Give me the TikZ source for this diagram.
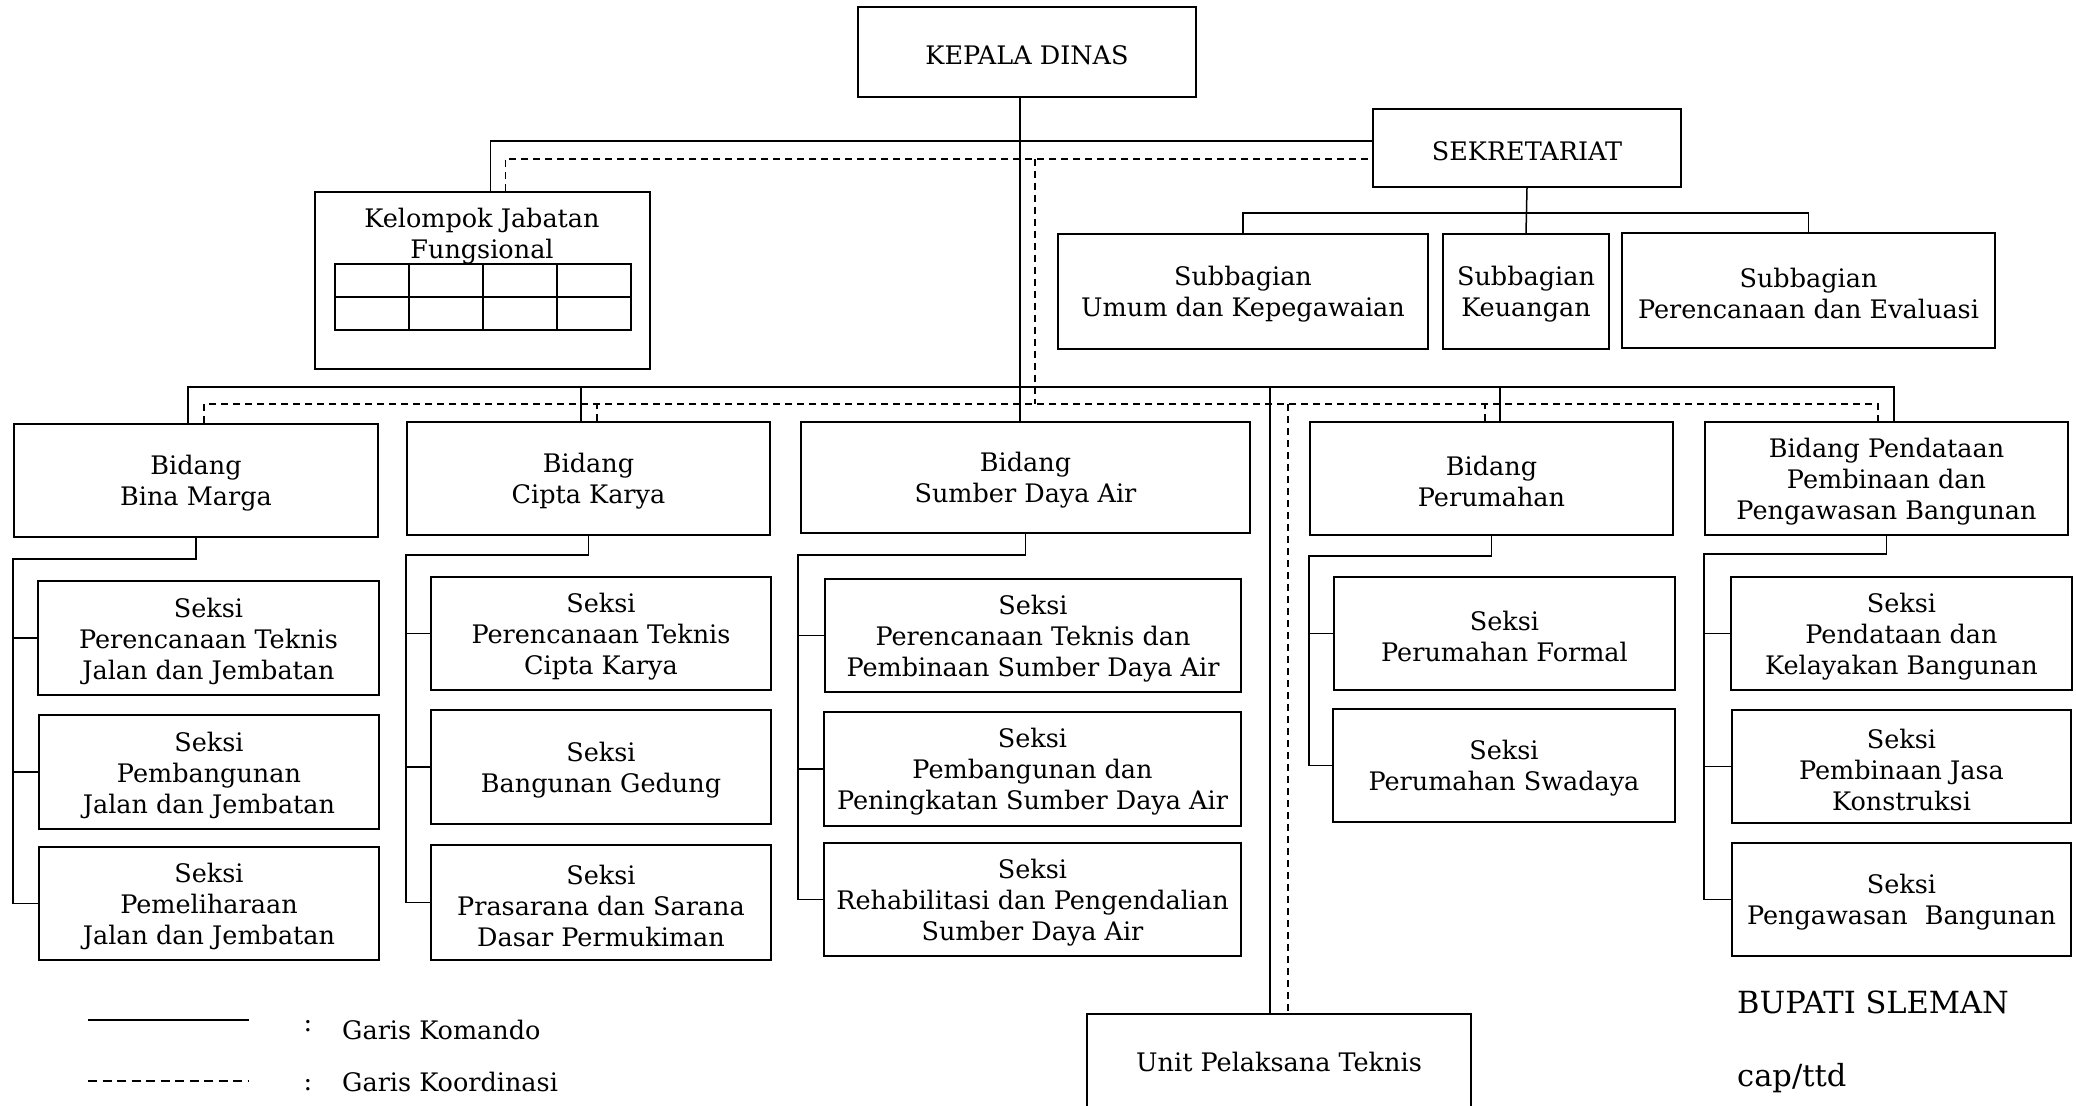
\documentclass[tikz,border=0pt]{standalone}
\usepackage{fontspec}
\setmainfont{DejaVu Serif}
\usetikzlibrary{calc}
\newcommand\bodyfont{\fontsize{25.5}{31}\selectfont}
\newcommand\bigfont{\fontsize{30.5}{36}\selectfont}
\tikzset{
  obox/.style={draw, line width=1.8pt, inner sep=0pt},
  otxt/.style={inner sep=0pt, align=center, font=\bodyfont},
  cn/.style={line width=1.5pt},
  dsh/.style={line width=1.3pt, dash pattern=on 7pt off 5pt},
}
% name, x1, y1, x2, y2, text
\newcommand\obx[6]{%
  \node[obox, minimum width={(#4)-(#2)}, minimum height={(#5)-(#3)}] (#1) at ({((#2)+(#4))/2},{((#3)+(#5))/2}) {};
  \node[otxt] (#1-t) at ([yshift=-3pt]#1.center) {#6};}
\begin{document}
\begin{tikzpicture}[x=1pt,y=-1pt,font=\bodyfont]
\useasboundingbox (0,0) rectangle (2076,1105);
\fill[white] (0,0) rectangle (2076,1105);
\clip (0,0) rectangle (2076,1105);

% top level
\obx{kd}{858}{7}{1196}{97}{KEPALA DINAS}
\obx{sek}{1373}{109}{1681}{187}{SEKRETARIAT}
\node[obox, minimum width=335, minimum height=177] (kjf) at (482.5,280.5) {};
\node[otxt] (kjft) at (482,236) {Kelompok Jabatan\\Fungsional};
\draw[line width=1.8pt] (335,264) rectangle (631,330);
\draw[line width=1.8pt] (335,297) -- (631,297);
\foreach \gx in {409,483,557} \draw[line width=1.8pt] (\gx,264) -- (\gx,330);

\obx{sb1}{1058}{234}{1428}{349}{Subbagian\\Umum dan Kepegawaian}
\obx{sb2}{1443}{234}{1609}{349}{Subbagian\\Keuangan}
\obx{sb3}{1622}{233}{1995}{348}{Subbagian\\Perencanaan dan Evaluasi}

% bidang
\obx{b1}{14}{424}{378}{537}{Bidang\\Bina Marga}
\obx{b2}{407}{422}{770}{535}{Bidang\\Cipta Karya}
\obx{b3}{801}{422}{1250}{533}{Bidang\\Sumber Daya Air}
\obx{b4}{1310}{422}{1673}{535}{Bidang\\Perumahan}
\obx{b5}{1705}{422}{2068}{535}{Bidang Pendataan\\Pembinaan dan\\Pengawasan Bangunan}

% seksi
\obx{s11}{38}{581}{379}{695}{Seksi\\Perencanaan Teknis\\Jalan dan Jembatan}
\obx{s12}{39}{715}{379}{829}{Seksi\\Pembangunan\\Jalan dan Jembatan}
\obx{s13}{39}{847}{379}{960}{Seksi\\Pemeliharaan\\Jalan dan Jembatan}
\obx{s21}{431}{577}{771}{690}{Seksi\\Perencanaan Teknis\\Cipta Karya}
\obx{s22}{431}{710}{771}{824}{Seksi\\Bangunan Gedung}
\obx{s23}{431}{845}{771}{960}{Seksi\\Prasarana dan Sarana\\Dasar Permukiman}
\obx{s31}{825}{579}{1241}{692}{Seksi\\Perencanaan Teknis dan\\Pembinaan Sumber Daya Air}
\obx{s32}{824}{712}{1241}{826}{Seksi\\Pembangunan dan\\Peningkatan Sumber Daya Air}
\obx{s33}{824}{843}{1241}{956}{Seksi\\Rehabilitasi dan Pengendalian\\Sumber Daya Air}
\obx{s41}{1334}{577}{1675}{690}{Seksi\\Perumahan Formal}
\obx{s42}{1333}{709}{1675}{822}{Seksi\\Perumahan Swadaya}
\obx{s51}{1731}{577}{2072}{690}{Seksi\\Pendataan dan\\Kelayakan Bangunan}
\obx{s52}{1732}{710}{2071}{823}{Seksi\\Pembinaan Jasa\\Konstruksi}
\obx{s53}{1732}{843}{2071}{956}{Seksi\\Pengawasan\hspace{0.35em} Bangunan}

\node[obox, minimum width=384, minimum height=100] (upt) at (1279,1064) {};
\node[otxt] (upt-t) at (1279,1062) {Unit Pelaksana Teknis};

% bus levels and trunk positions
\coordinate (yA) at (0,141);
\coordinate (yB) at (0,159);
\coordinate (yC) at (0,387);
\coordinate (yD) at (0,404);
\coordinate (yE) at (0,213);
\coordinate (xT) at (1020,0);
\coordinate (xU) at (1035,0);
\coordinate (xV) at (1270,0);
\coordinate (xW) at (1288,0);

% drop points
\coordinate (d0) at ([xshift=8pt]kjf.north);
\coordinate (e0) at ([xshift=23pt]kjf.north);
\coordinate (d1) at ([xshift=-8pt]b1.north);
\coordinate (e1) at ([xshift=8pt]b1.north);
\coordinate (d2) at ([xshift=-7.5pt]b2.north);
\coordinate (e2) at ([xshift=8.5pt]b2.north);
\coordinate (d4) at ([xshift=8.5pt]b4.north);
\coordinate (e4) at ([xshift=-6.5pt]b4.north);
\coordinate (d5) at ([xshift=7.5pt]b5.north);
\coordinate (e5) at ([xshift=-8.5pt]b5.north);

% command lines (solid)
\draw[cn] (kd.south -| xT) -- (xT |- b3.north);
\draw[cn] (d0) |- (sek.west |- yA);
\draw[cn] (sek.south) -- (sb2.north);
\draw[cn] (sb1.north) |- (sb3.north |- yE) -- (sb3.north);
\draw[cn] (d1) |- (d5 |- yC) -- (d5);
\draw[cn] (d2) -- (d2 |- yC);
\draw[cn] (d4) -- (d4 |- yC);
\draw[cn] (xV |- yC) -- (xV |- upt.north);

% coordination lines (dashed)
\draw[dsh] (e0) |- (sek.west |- yB);
\draw[dsh] (xU |- yB) -- (xU |- yD);
\draw[dsh] (e1) |- (e5 |- yD) -- (e5);
\draw[dsh] (e2) -- (e2 |- yD);
\draw[dsh] (e4) -- (e4 |- yD);
\draw[dsh] (xW |- yD) -- (xW |- upt.north);

% brackets to seksi
\draw[cn] (b1.south) -- ($(b1.south)+(0,21)$) -| (b1.west |- s13.west) -- (s13.west);
\draw[cn] (b1.west |- s11.west) -- (s11.west);
\draw[cn] (b1.west |- s12.west) -- (s12.west);
\draw[cn] (b2.south) -- ($(b2.south)+(0,19)$) -| (b2.west |- s23.west) -- (s23.west);
\draw[cn] (b2.west |- s21.west) -- (s21.west);
\draw[cn] (b2.west |- s22.west) -- (s22.west);
\draw[cn] (b3.south) -- ($(b3.south)+(0,21)$) -| ([xshift=-2pt]b3.west |- s33.west) -- (s33.west);
\draw[cn] ([xshift=-2pt]b3.west |- s31.west) -- (s31.west);
\draw[cn] ([xshift=-2pt]b3.west |- s32.west) -- (s32.west);
\draw[cn] (b4.south) -- ($(b4.south)+(0,20)$) -| (b4.west |- s42.west) -- (s42.west);
\draw[cn] (b4.west |- s41.west) -- (s41.west);
\draw[cn] (b5.south) -- ($(b5.south)+(0,18)$) -| (b5.west |- s53.west) -- (s53.west);
\draw[cn] (b5.west |- s51.west) -- (s51.west);
\draw[cn] (b5.west |- s52.west) -- (s52.west);

% legend
\coordinate (l1a) at (88,1020);
\coordinate (l1b) at (249,1020);
\coordinate (l2a) at (88,1081);
\coordinate (l2b) at (249,1081);
\draw[cn] (l1a) -- (l1b);
\draw[line width=1.2pt, dash pattern=on 9pt off 5.5pt] (l2a) -- (l2b);
\node[inner sep=0pt] (c1) at (308,1026) {:};
\node[inner sep=0pt] (c2) at (308,1085) {:};
\node[anchor=west, inner sep=0pt] (lk) at (342,1030) {Garis Komando};
\node[anchor=west, inner sep=0pt] (lko) at (342,1082) {Garis Koordinasi};

% signature
\node[anchor=west, inner sep=0pt, font=\bigfont] (bup) at (1737,1002) {BUPATI SLEMAN};
\node[anchor=west, inner sep=0pt, font=\bigfont] (cap) at (1737,1078) {cap/ttd};
\end{tikzpicture}
\end{document}
